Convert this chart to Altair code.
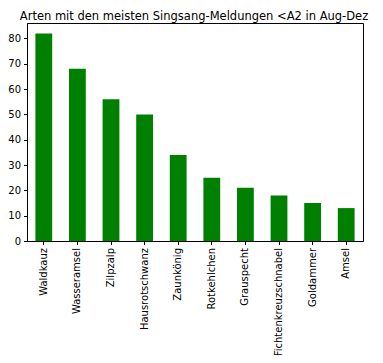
import altair as alt
import pandas as pd

species = ["Waldkauz", "Wasseramsel", "Zilpzalp", "Hausrotschwanz", "Zaunkönig",
           "Rotkehlchen", "Grauspecht", "Fichtenkreuzschnabel", "Goldammer", "Amsel"]
counts = [82, 68, 56, 50, 34, 25, 21, 18, 15, 13]
y_ticks = [0, 10, 20, 30, 40, 50, 60, 70, 80]

df = pd.DataFrame({"Art": species, "Anzahl": counts})

font = "DejaVu Sans"

chart = alt.Chart(df).mark_bar(color="green").encode(
    x=alt.X("Art:N", sort=species,
            scale=alt.Scale(paddingInner=0.5, paddingOuter=0.25),
            axis=alt.Axis(title=None, labelAngle=-90, labelFontSize=10, labelFont=font,
                          labelColor="black", tickColor="black", tickSize=3.5,
                          domainColor="black", labelPadding=3, grid=False)),
    y=alt.Y("Anzahl:Q", scale=alt.Scale(domain=[0, 86.1], nice=False, zero=True),
            axis=alt.Axis(title=None, values=y_ticks, labelFontSize=10, labelFont=font,
                          labelColor="black", tickColor="black", tickSize=3.5,
                          domainColor="black", labelPadding=3, grid=False)),
).properties(
    width=336,
    height=218,
    title=alt.TitleParams("Arten mit den meisten Singsang-Meldungen <A2 in Aug-Dez",
                          fontSize=11.5, font=font, fontWeight="normal", color="black",
                          anchor="middle", offset=1, dx=-1),
    autosize=alt.AutoSizeParams(type="none"),
    padding={"left": 19, "top": 15, "right": 12, "bottom": 114},
).configure_view(stroke="black", strokeWidth=1)

chart.save("out.html", embed_options={"renderer": "svg", "actions": False})
